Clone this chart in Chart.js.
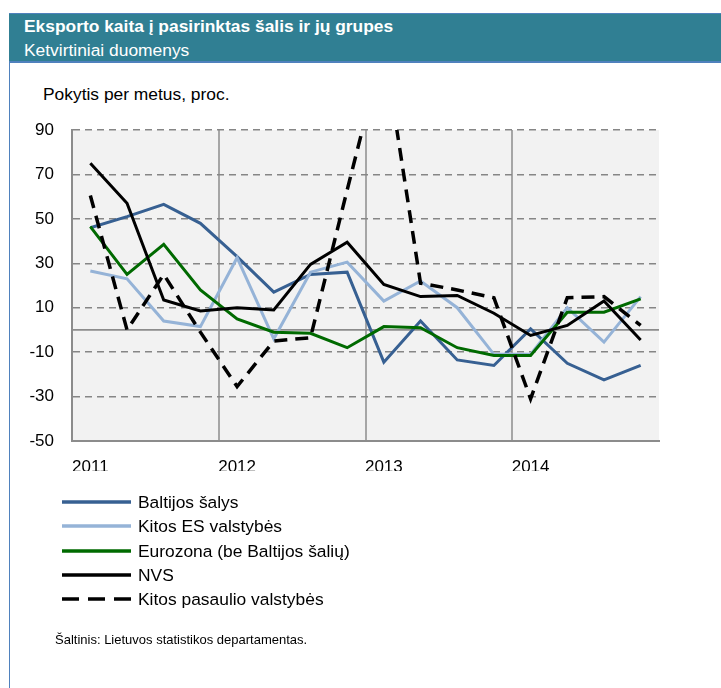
<!DOCTYPE html>
<html>
<head>
<meta charset="utf-8">
<script src="https://cdn.jsdelivr.net/npm/chart.js@4"></script>
<style>
  body { margin: 0; width: 721px; height: 688px; position: relative; background: #fff; overflow: hidden;
         font-family: "Liberation Sans", Arial, sans-serif; color: #000; }
  #frame { position: absolute; left: 9px; top: 13px; width: 1px; height: 675px; background: #4f81bd; }
  #head { position: absolute; left: 9px; top: 13px; width: 712px; height: 47px; background: #307f93;
          border-top: 1px solid #4f81bd; border-bottom: 2px solid #4f81bd; color: #fff; }
  #head div { position: absolute; left: 15px; font-size: 17.4px; line-height: 20px; white-space: nowrap; }
  #head .t { top: 2px; font-weight: bold; }
  #head .s { top: 26px; }
  #unit { position: absolute; left: 43px; top: 84px; font-size: 17.4px; line-height: 20px; }
  #chart { position: absolute; left: 0; top: 0; }
  #legend { position: absolute; left: 62px; top: 490px; }
  #legend .row { height: 24.3px; display: flex; align-items: center; font-size: 17.4px; line-height: 20px; white-space: nowrap; }
  #legend svg { margin-right: 7px; }
  #source { position: absolute; left: 55px; top: 632px; font-size: 13px; line-height: 16px; }
</style>
</head>
<body>
<div id="frame"></div>
<div id="head">
  <div class="t">Eksporto kaita į pasirinktas šalis ir jų grupes</div>
  <div class="s">Ketvirtiniai duomenys</div>
</div>
<div id="unit">Pokytis per metus, proc.</div>
<canvas id="chart" width="721" height="688"></canvas>
<div id="legend"></div>
<div id="source">Šaltinis: Lietuvos statistikos departamentas.</div>
<script>
// quarters 2011 I .. 2014 IV
const years = ['2011', '2012', '2013', '2014']
const quarters = years.flatMap(y => [y + ' I', y + ' II', y + ' III', y + ' IV'])

const baltijos = [46, 51, 56.5, 48, 33, 17, 25, 26, -14.5, 4, -13.5, -16, 0.5, -15, -22.5, -16]
const kitosES = [26.5, 23, 4, 1.5, 32.5, -4, 26, 30.5, 13, 22, 10, -11, -11, 10, -5.5, 15]
const eurozona = [46.5, 25, 38.5, 18, 5, -1, -1.5, -8, 1.5, 1, -8, -11.5, -11.5, 8, 8, 14]
const nvs = [75, 57, 13.5, 8.5, 10, 9, 29.5, 39.5, 20.5, 15, 15.5, 7.5, -2.5, 2, 13, -4.5]
const kitosPasaulio = [60.5, 0, 25, -1, -25.5, -5, -3.5, 63, 128, 21, 18, 14.5, -31, 14.5, 15, 2]

const yTicks = { min: -50, max: 90, step: 20 }

const font = { family: '"Liberation Sans", Arial, sans-serif', size: 17 }

// plot background + solid zero line
const plotDecor = {
    id: 'plotDecor',
    beforeDraw(chart) {
        const { ctx, chartArea: a } = chart
        ctx.save()
        ctx.fillStyle = '#f2f2f2'
        ctx.fillRect(a.left, a.top, a.right - a.left, a.bottom - a.top)
        ctx.restore()
    },
    beforeDatasetsDraw(chart) {
        const { ctx, chartArea: a, scales } = chart
        const y0 = scales.y.getPixelForValue(0)
        ctx.save()
        ctx.strokeStyle = '#8c8c8c'
        ctx.lineWidth = 1.7
        ctx.beginPath()
        ctx.moveTo(a.left, y0)
        ctx.lineTo(a.right, y0)
        ctx.stroke()
        ctx.restore()
    }
}

const series = [
    { label: 'Baltijos šalys', data: baltijos, color: '#376092' },
    { label: 'Kitos ES valstybės', data: kitosES, color: '#95b3d7' },
    { label: 'Eurozona (be Baltijos šalių)', data: eurozona, color: '#006a00' },
    { label: 'NVS', data: nvs, color: '#000000' },
    { label: 'Kitos pasaulio valstybės', data: kitosPasaulio, color: '#000000', dash: [13, 8] },
]

const ctx = document.getElementById('chart').getContext('2d')
const chart = new Chart(ctx, {
    type: 'line',
    data: {
        labels: quarters,
        datasets: series.map((s, i) => ({
            label: s.label,
            data: s.data,
            borderColor: s.color,
            backgroundColor: s.color,
            borderWidth: s.dash ? 3.5 : 3,
            borderDash: s.dash || [],
            fill: false,
            order: series.length - i,
        })),
    },
    options: {
        responsive: false,
        animation: false,
        layout: { padding: { left: 0, top: 130, right: 62, bottom: 217 } },
        plugins: { legend: { display: false }, tooltip: { enabled: false } },
        elements: {
            point: { radius: 0 },
            line: { tension: 0, borderCapStyle: 'butt', borderJoinStyle: 'miter' },
        },
        scales: {
            x: {
                type: 'category',
                offset: true,
                grid: {
                    offset: true,
                    drawTicks: false,
                    lineWidth: 2,
                    color: c => c.index % 4 === 0 ? '#a6a6a6' : 'rgba(0,0,0,0)',
                },
                border: { display: true, color: '#8c8c8c', width: 2 },
                ticks: {
                    autoSkip: false, maxRotation: 0, padding: 16, color: '#000', font,
                    callback: (v, i) => i % 4 === 0 ? years[i / 4] : '',
                },
                afterFit: s => { s.height = 30 },
            },
            y: {
                min: yTicks.min,
                max: yTicks.max,
                ticks: { stepSize: yTicks.step, padding: 18, color: '#000', font },
                grid: { drawTicks: false, color: '#868686', lineWidth: 1.5 },
                border: { display: true, color: '#8c8c8c', width: 2, dash: [7, 5] },
                afterFit: s => { s.width = 72 },
            },
        },
    },
    plugins: [plotDecor],
})

// legend as a plain vertical list, built from the chart's datasets
const legend = document.getElementById('legend')
chart.data.datasets.forEach(ds => {
    const row = document.createElement('div')
    row.className = 'row'
    const dash = ds.borderDash.length ? 'stroke-dasharray="17 9"' : ''
    row.innerHTML = `<svg width="69" height="6"><line x1="0" y1="3" x2="69" y2="3" stroke="${ds.borderColor}" stroke-width="3.6" ${dash}/></svg><span>${ds.label}</span>`
    legend.appendChild(row)
})
</script>
</body>
</html>
